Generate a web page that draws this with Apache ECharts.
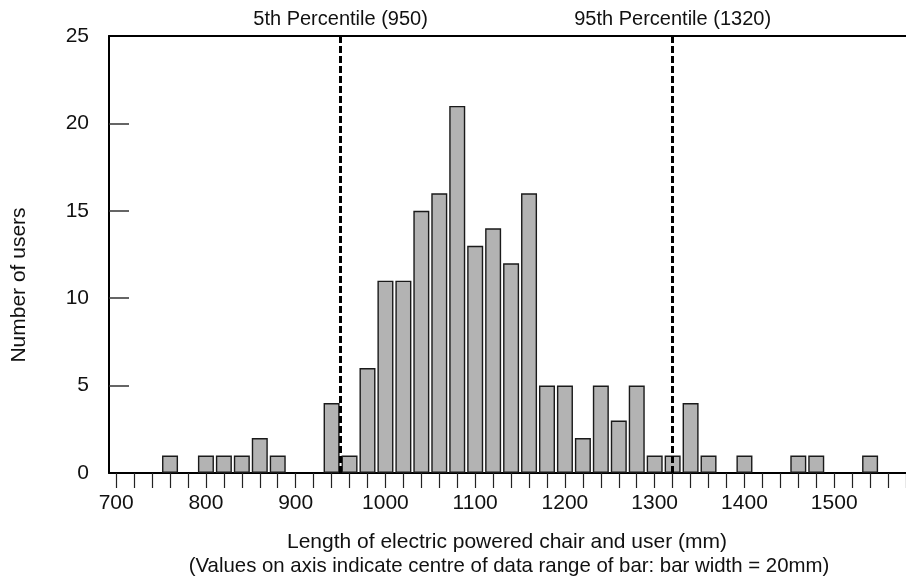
<!DOCTYPE html>
<html>
<head>
<meta charset="utf-8">
<script src="https://cdn.jsdelivr.net/npm/echarts@6/dist/echarts.min.js"></script>
<style>html,body{margin:0;padding:0;background:#fff;}#c{width:906px;height:583px;}</style>
</head>
<body>
<div id="c"></div>
<script>
// Bar centres (mm) and counts
const lengths = [760, 800, 820, 840, 860, 880, 940, 960, 980, 1000, 1020, 1040, 1060, 1080, 1100, 1120, 1140, 1160, 1180, 1200, 1220, 1240, 1260, 1280, 1300, 1320, 1340, 1360, 1400, 1460, 1480, 1540];
const users   = [1, 1, 1, 1, 2, 1, 4, 1, 6, 11, 11, 15, 16, 21, 13, 14, 12, 16, 5, 5, 2, 5, 3, 5, 1, 1, 4, 1, 1, 1, 1, 1];
const xTickValues = [];
for (let v = 700; v <= 1580; v += 20) xTickValues.push(v);
const xLabelValues = [700, 800, 900, 1000, 1100, 1200, 1300, 1400, 1500];
const yTickValues = [5, 10, 15, 20];
const percentiles = [{name: '5th Percentile (950)', value: 950}, {name: '95th Percentile (1320)', value: 1320}];

const FONT = 'Liberation Sans, Arial, sans-serif';
const chart = echarts.init(document.getElementById('c'), null, {renderer: 'canvas'});
chart.setOption({
  animation: false,
  grid: {left: 109, right: 0, top: 36, bottom: 110, containLabel: false},
  xAxis: [{
    type: 'value', min: 692, max: 1580, position: 'bottom',
    axisLine: {show: true, onZero: false, lineStyle: {color: '#000', width: 2}},
    axisTick: {show: true, inside: false, length: 15, customValues: xTickValues, lineStyle: {color: '#222', width: 1.2}},
    axisLabel: {show: true, customValues: xLabelValues, margin: 20, fontSize: 21, color: '#111', fontFamily: FONT, formatter: v => String(v)},
    splitLine: {show: false}
  }, {
    type: 'value', min: 692, max: 1580, position: 'top',
    axisLine: {show: true, onZero: false, lineStyle: {color: '#000', width: 2}},
    axisTick: {show: false}, axisLabel: {show: false}, splitLine: {show: false}
  }],
  yAxis: {
    type: 'value', min: 0, max: 25, interval: 5,
    axisLine: {show: true, lineStyle: {color: '#000', width: 2}},
    axisTick: {show: true, inside: true, length: 20, customValues: yTickValues, lineStyle: {color: '#333', width: 1.5}},
    axisLabel: {margin: 20, fontSize: 21, color: '#111', fontFamily: FONT},
    splitLine: {show: false}
  },
  series: [{
    type: 'bar',
    xAxisIndex: 0,
    data: lengths.map((l, i) => [l, users[i]]),
    barWidth: 16,
    itemStyle: {color: '#b3b3b3', borderColor: '#1a1a1a', borderWidth: 1.4},
    markLine: {
      silent: true,
      symbol: 'none',
      lineStyle: {color: '#000', width: 3, type: [7, 3]},
      label: {show: true, position: 'end', distance: 7, fontSize: 20, color: '#111', fontFamily: FONT, formatter: p => p.name},
      data: percentiles.map(p => ({name: p.name, xAxis: p.value}))
    }
  }],
  graphic: [
    {type: 'text', x: 507, y: 542, style: {text: 'Length of electric powered chair and user (mm)', textAlign: 'center', textVerticalAlign: 'middle', fontSize: 21, fill: '#111', fontFamily: FONT}},
    {type: 'text', x: 509, y: 566, style: {text: '(Values on axis indicate centre of data range of bar: bar width = 20mm)', textAlign: 'center', textVerticalAlign: 'middle', fontSize: 20.4, fill: '#111', fontFamily: FONT}},
    {type: 'text', rotation: Math.PI / 2, x: 19, y: 285, style: {text: 'Number of users', textAlign: 'center', textVerticalAlign: 'middle', fontSize: 21, fill: '#111', fontFamily: FONT}}
  ]
});
</script>
</body>
</html>
